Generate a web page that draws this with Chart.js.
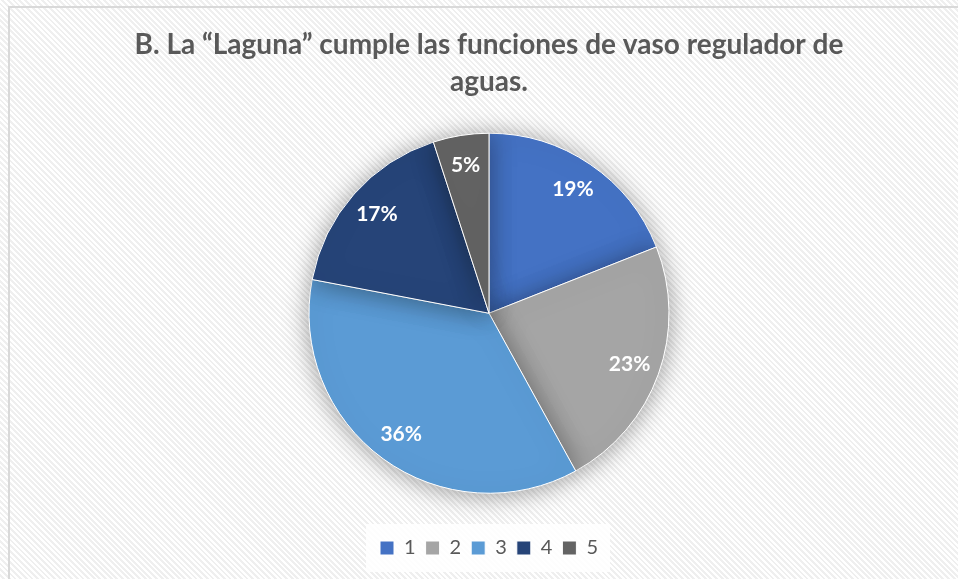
<!DOCTYPE html>
<html lang="es">
<head>
    <meta charset="UTF-8">
    <meta name="viewport" content="width=device-width, initial-scale=1.0">
    <title>Vaso regulador</title>
    <script src="https://cdn.jsdelivr.net/npm/chart.js"></script>
    <style>
        html, body { margin: 0; padding: 0; background: #fff; }
        #wrap {
            position: relative;
            width: 958px;
            height: 579px;
            overflow: hidden;
            background: repeating-linear-gradient(45deg, #ffffff 0px, #ffffff 2px, #efefef 2px, #efefef 4px);
        }
        #frame {
            position: absolute;
            left: 8px;
            top: 6px;
            width: 980px;
            height: 600px;
            border: 2px solid #d9d9d9;
        }
        #pieChart { position: absolute; left: 0; top: 0; }
    </style>
</head>
<body>
    <div id="wrap">
        <div id="frame"></div>
        <canvas id="pieChart" width="958" height="579"></canvas>
    </div>

    <script>
        const categories = ['1', '2', '3', '4', '5'];
        const percentages = [19, 23, 36, 17, 5];
        const sliceColors = ['#4472C4', '#A5A5A5', '#5B9BD5', '#264478', '#636363'];
        const titleLines = ['B. La \u201cLaguna\u201d cumple las funciones de vaso regulador de', 'aguas.'];

        // soft glow under the pie
        const pieShadow = {
            id: 'pieShadow',
            beforeDatasetsDraw(chart) {
                const ctx = chart.ctx;
                ctx.save();
                ctx.shadowColor = 'rgba(0, 0, 0, 0.38)';
                ctx.shadowBlur = 26;
                ctx.shadowOffsetX = 0;
                ctx.shadowOffsetY = 2;
            },
            afterDatasetsDraw(chart) {
                chart.ctx.restore();
            }
        };

        // percentage labels inside each slice
        const sliceLabels = {
            id: 'sliceLabels',
            afterDatasetsDraw(chart) {
                const ctx = chart.ctx;
                const meta = chart.getDatasetMeta(0);
                ctx.save();
                ctx.fillStyle = '#ffffff';
                ctx.font = 'bold 21px Lato, "Open Sans", sans-serif';
                ctx.textAlign = 'center';
                ctx.textBaseline = 'middle';
                meta.data.forEach((arc, i) => {
                    const p = arc.getProps(['x', 'y', 'startAngle', 'endAngle', 'outerRadius'], true);
                    const mid = (p.startAngle + p.endAngle) / 2;
                    const r = p.outerRadius * 0.83;
                    ctx.fillText(percentages[i] + '%', p.x + Math.cos(mid) * r, p.y + Math.sin(mid) * r);
                });
                ctx.restore();
            }
        };

        // white panel behind the legend
        const legendPanel = {
            id: 'legendPanel',
            beforeDraw(chart) {
                const lg = chart.legend;
                if (!lg || !lg.legendHitBoxes || !lg.legendHitBoxes.length) return;
                const boxes = lg.legendHitBoxes;
                const x0 = boxes[0].left - 14;
                const x1 = boxes[boxes.length - 1].left + boxes[boxes.length - 1].width + 12;
                const y0 = boxes[0].top - 14;
                const y1 = boxes[0].top + boxes[0].height + 14;
                const ctx = chart.ctx;
                ctx.save();
                ctx.fillStyle = 'rgba(255, 255, 255, 0.85)';
                ctx.fillRect(x0, y0, x1 - x0, y1 - y0);
                ctx.restore();
            }
        };

        const ctx = document.getElementById('pieChart').getContext('2d');
        new Chart(ctx, {
            type: 'pie',
            data: {
                labels: categories,
                datasets: [{
                    data: percentages,
                    backgroundColor: sliceColors,
                    borderColor: '#ffffff',
                    borderWidth: 1,
                    radius: 180
                }]
            },
            options: {
                responsive: false,
                animation: false,
                layout: { padding: { top: 16, bottom: 11, left: 20, right: 0 } },
                plugins: {
                    title: {
                        display: true,
                        text: titleLines,
                        color: '#595959',
                        font: { family: 'Lato, "Open Sans", sans-serif', size: 28, weight: 'bold', lineHeight: 1.33 },
                        padding: { top: 10, bottom: -2 }
                    },
                    legend: {
                        position: 'bottom',
                        labels: {
                            color: '#595959',
                            font: { family: 'Lato, "Open Sans", sans-serif', size: 20 },
                            boxWidth: 14,
                            boxHeight: 14,
                            padding: 10
                        }
                    },
                    tooltip: { enabled: false }
                }
            },
            plugins: [legendPanel, pieShadow, sliceLabels]
        });
    </script>
</body>
</html>
